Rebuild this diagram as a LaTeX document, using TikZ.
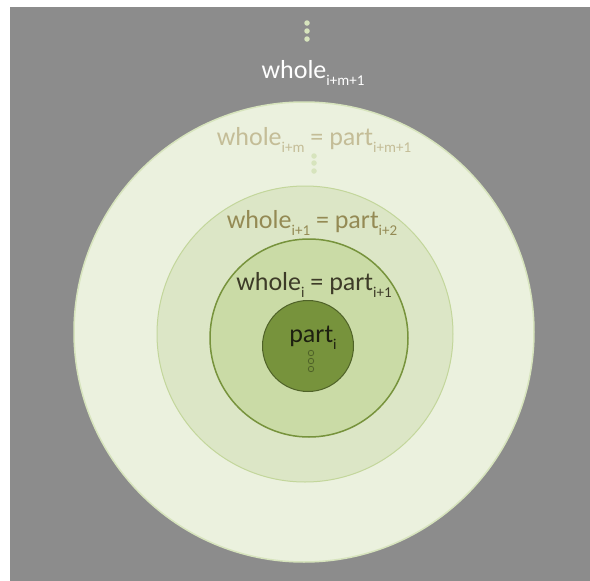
\documentclass[tikz,border=0pt]{standalone}
\usepackage{fontspec}
\setmainfont{Carlito}
\usetikzlibrary{positioning}

\definecolor{bggray}{HTML}{8C8C8C}
\definecolor{ringA}{HTML}{EBF1DE}
\definecolor{ringB}{HTML}{DCE6C6}
\definecolor{ringC}{HTML}{CADBA6}
\definecolor{ringD}{HTML}{77933C}
\definecolor{edgeA}{HTML}{D7E4BD}
\definecolor{edgeB}{HTML}{C3D69B}
\definecolor{edgeD}{HTML}{4F6228}
\definecolor{txtB}{HTML}{C4BD97}
\definecolor{txtC}{HTML}{948A54}
\definecolor{txtD}{HTML}{3D3B28}
\definecolor{txtE}{HTML}{1D1F10}

\newcommand{\subidx}[1]{\raisebox{-7pt}{\fontsize{15}{15}\selectfont #1}}

\begin{document}
\begin{tikzpicture}[x=1pt, y=-1pt]

% Styles
\tikzset{
    ring/.style={circle, draw, inner sep=0pt},
    lbl/.style={anchor=base, inner sep=0pt, font=\fontsize{26}{30}\selectfont},
    dotfill/.style={circle, inner sep=0pt, minimum size=5.5pt, fill=edgeA},
    dotring/.style={circle, inner sep=0pt, minimum size=5.5pt, draw=edgeD, fill=ringD, line width=0.8pt}
}

% Canvas
\useasboundingbox (0,0) rectangle (590,581);
\fill[white] (0,0) rectangle (590,581);
\fill[bggray] (10,7) rectangle (590,581);

% Circles
\node[ring, fill=ringA, draw=edgeA, line width=1.5pt, minimum size=460pt] (outer) at (304,332) {};
\node[ring, fill=ringB, draw=edgeB, line width=1pt, minimum size=296pt] (second) at (305,334) {};
\node[ring, fill=ringC, draw=ringD, line width=1.5pt, minimum size=198pt] (third) at (309,338) {};
\node[ring, fill=ringD, draw=edgeD, line width=1pt, minimum size=91pt] (inner) at (308,346) {};

% Labels
\node[lbl, white] (w1) at (313,78) {whole\subidx{i+m+1}};
\node[lbl, txtB] (w2) at (314,145) {whole\subidx{i+m} = part\subidx{i+m+1}};
\node[lbl, txtC] (w3) at (312,228) {whole\subidx{i+1} = part\subidx{i+2}};
\node[lbl, txtD] (w4) at (314,290) {whole\subidx{i} = part\subidx{i+1}};
\node[lbl, txtE] (p0) at (313,342) {part\subidx{i}};

% Dots
\foreach \y [count=\k] in {23,31,39} {
    \node[dotfill] (top\k) at (307,\y) {};
}
\foreach \y [count=\k] in {156,163,171} {
    \node[dotfill] (mid\k) at (314,\y) {};
}
\foreach \y [count=\k] in {353,361,369} {
    \node[dotring] (low\k) at (311,\y) {};
}

\end{tikzpicture}
\end{document}
